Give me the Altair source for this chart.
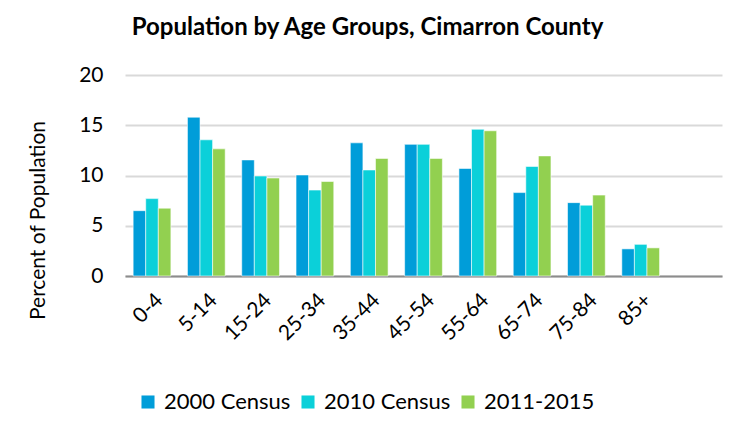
import altair as alt
import pandas as pd

categories = ["0-4", "5-14", "15-24", "25-34", "35-44", "45-54", "55-64", "65-74", "75-84", "85+"]
series = ["2000 Census", "2010 Census", "2011-2015"]
colors = ["#009DD9", "#0BD0D9", "#92D050"]
census_2000 = [6.5, 15.8, 11.55, 10.05, 13.25, 13.1, 10.7, 8.3, 7.3, 2.7]
census_2010 = [7.7, 13.55, 9.95, 8.55, 10.55, 13.1, 14.6, 10.9, 7.05, 3.15]
acs_2011_2015 = [6.75, 12.65, 9.75, 9.4, 11.7, 11.7, 14.45, 11.95, 8.05, 2.8]

rows = []
for s, vals in zip(series, [census_2000, census_2010, acs_2011_2015]):
    for c, v in zip(categories, vals):
        rows.append({"age": c, "series": s, "value": v})
df = pd.DataFrame(rows)

FONT = "Lato"

chart = alt.Chart(df).mark_bar(stroke="white", strokeWidth=0.8, strokeOpacity=0.7).encode(
    x=alt.X("age:N", sort=categories,
            scale=alt.Scale(domain=categories + [" "], paddingInner=0.305, paddingOuter=0.15),
            axis=alt.Axis(title=None, labelAngle=-45, labelFontSize=21, labelFont=FONT,
                          labelColor="#000000", ticks=False, domainColor="#8c8c8c",
                          domainWidth=2, labelPadding=13, grid=False)),
    xOffset=alt.XOffset("series:N", sort=series, scale=alt.Scale(domain=series, paddingInner=0, paddingOuter=0)),
    y=alt.Y("value:Q", scale=alt.Scale(domain=[0, 20]),
            axis=alt.Axis(values=[0, 5, 10, 15, 20], title="Percent of Population",
                          titleFont=FONT, titleFontSize=21, titleFontWeight="normal",
                          titleColor="#000000", titleX=-87, titleY=145,
                          titleAlign="center", titleBaseline="middle", titleAngle=-90,
                          labelFont=FONT, labelFontSize=21, labelColor="#000000",
                          ticks=False, tickSize=0, labelPadding=22, domain=False,
                          gridColor="#d9d9d9", gridWidth=2)),
    color=alt.Color("series:N", sort=series,
                    scale=alt.Scale(domain=series, range=colors),
                    legend=alt.Legend(title=None, orient="none", legendX=12, legendY=316,
                                      direction="horizontal", symbolType="square",
                                      symbolSize=170, symbolStrokeWidth=0,
                                      labelFont=FONT, labelFontSize=22, labelColor="#000000",
                                      labelOffset=5, columnPadding=6)),
).properties(
    width=597, height=201,
    title=alt.TitleParams(text="Population by Age Groups, Cimarron County", anchor="middle",
                          dx=-56, offset=24, font=FONT, fontSize=24, fontWeight="bold",
                          color="#000000"),
    autosize=alt.AutoSizeParams(type="none"),
    padding={"left": 117, "top": 67, "right": 25, "bottom": 151},
).configure_view(stroke=None)

chart.save("out.html", embed_options={"renderer": "svg", "actions": False})
